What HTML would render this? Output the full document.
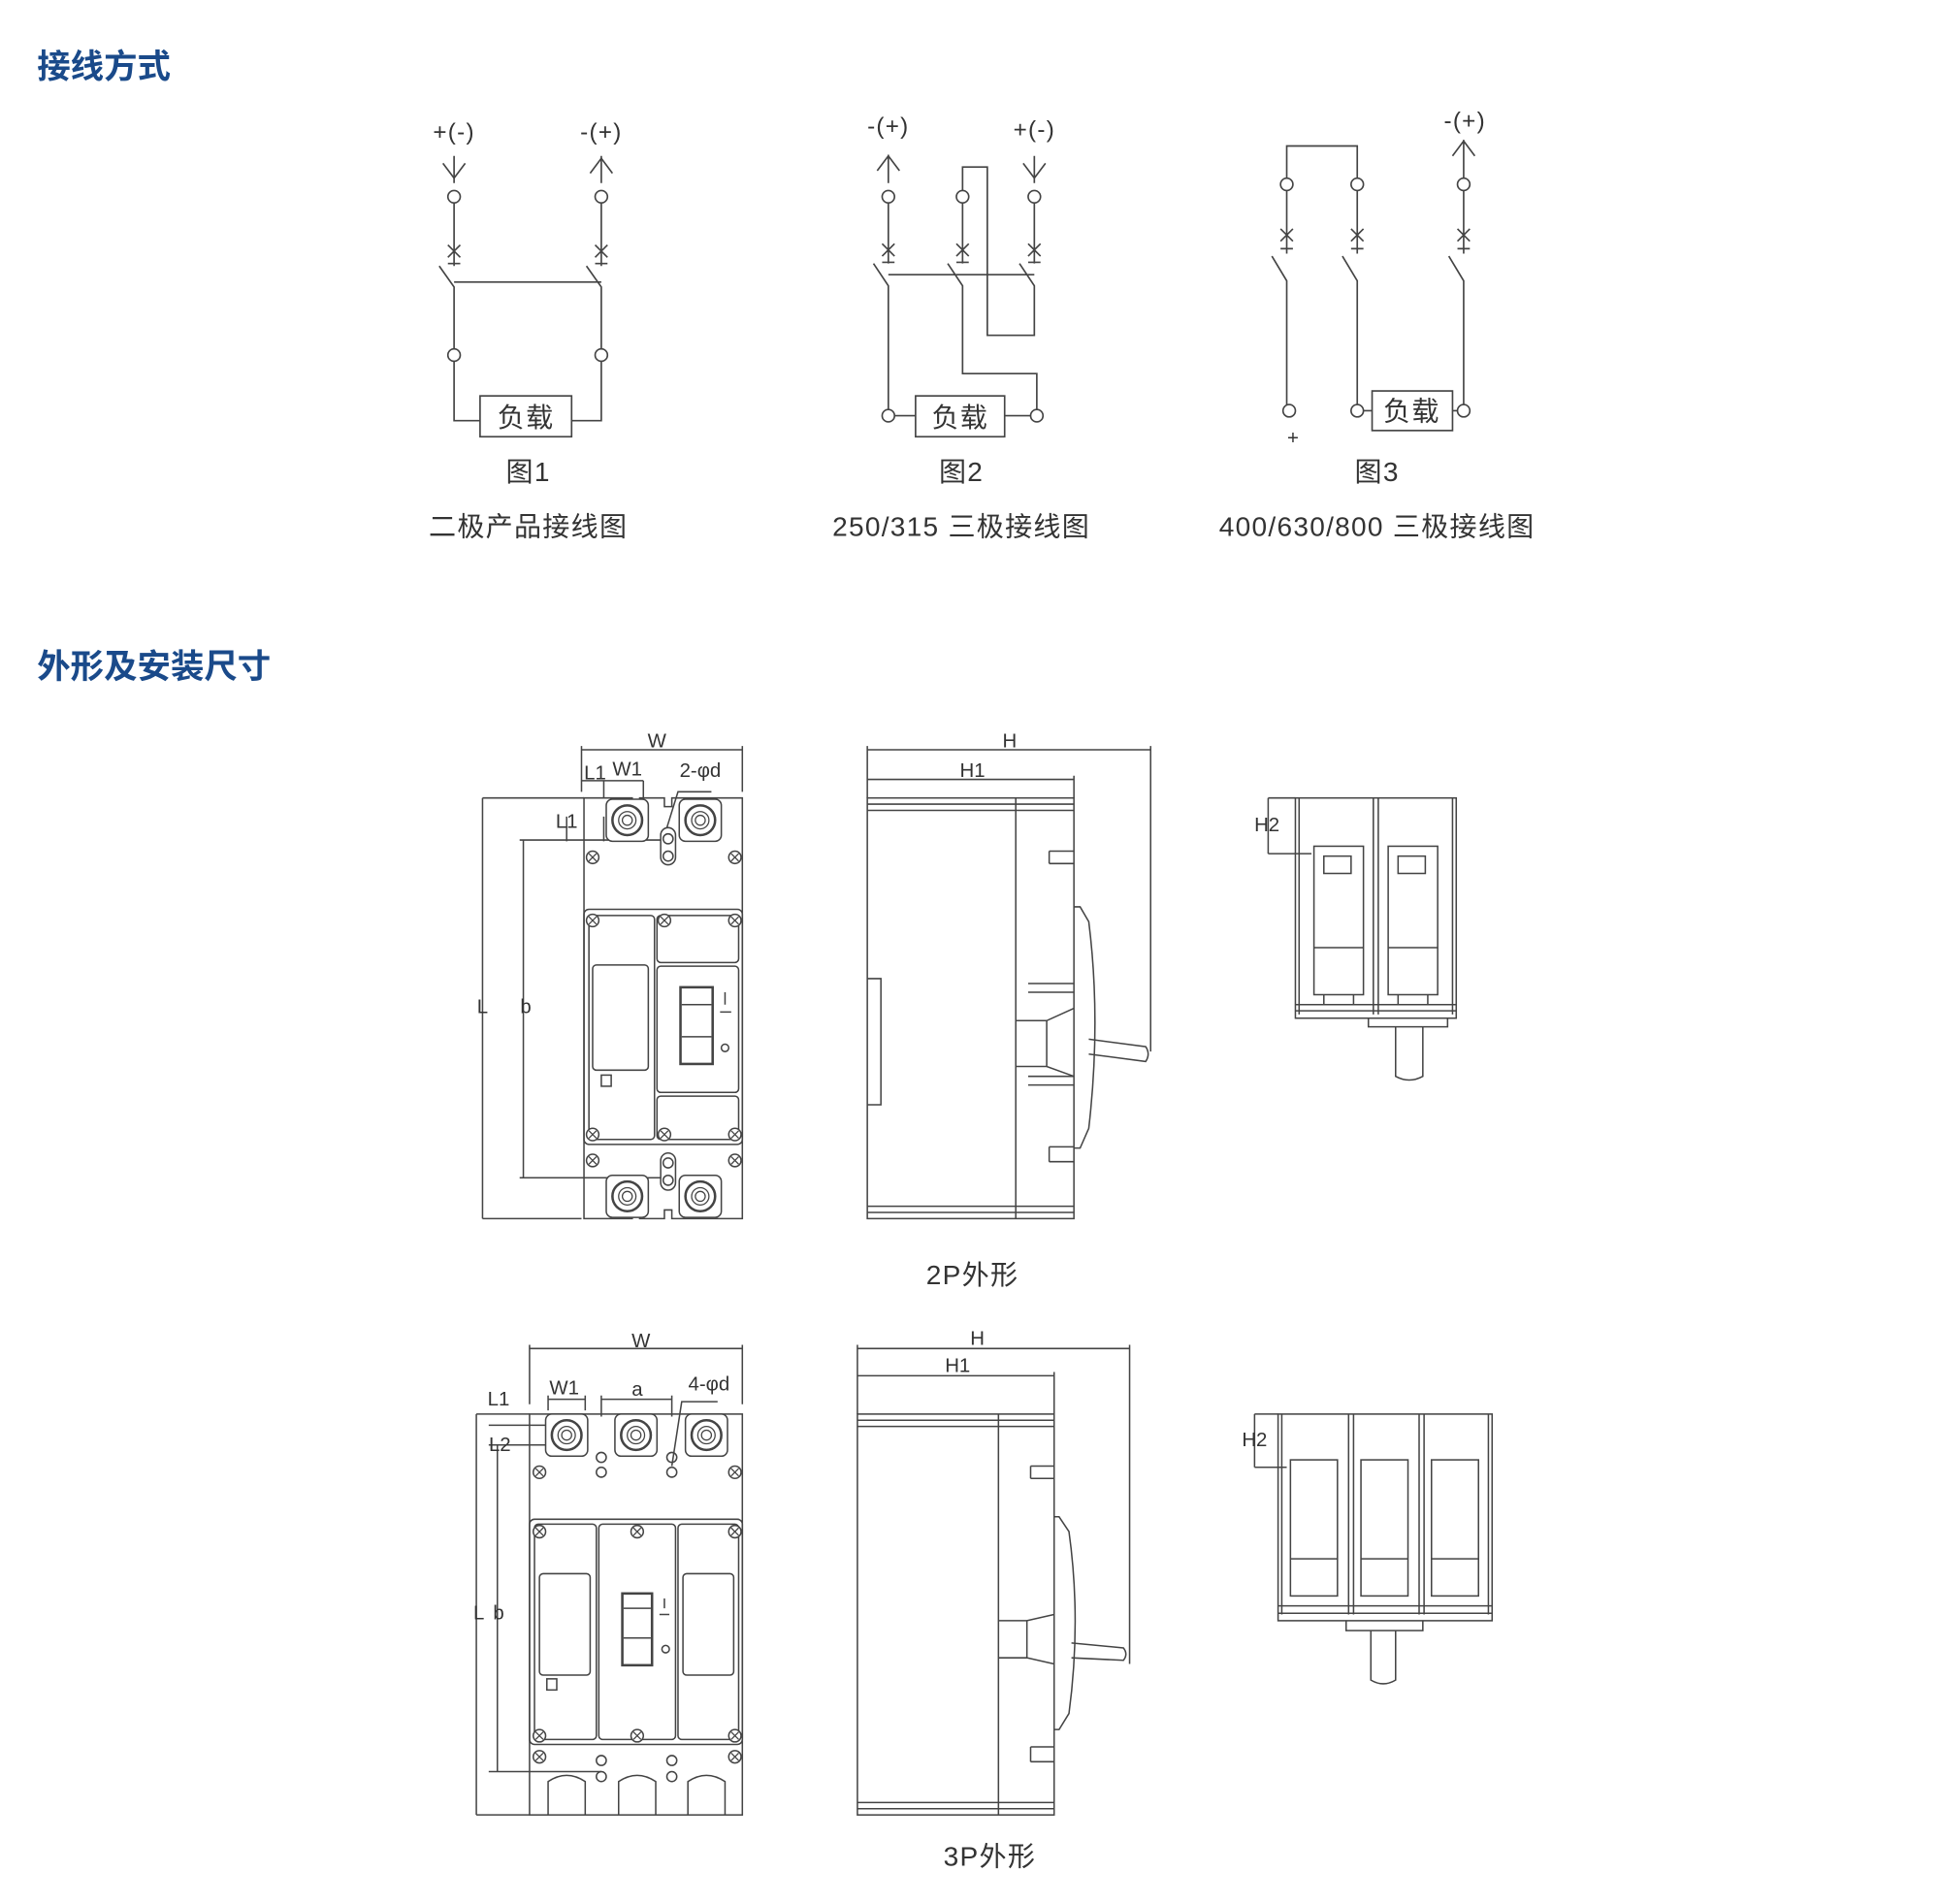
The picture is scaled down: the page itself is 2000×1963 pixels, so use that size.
<!DOCTYPE html>
<html><head><meta charset="utf-8">
<style>
html,body{margin:0;padding:0;background:#fff}
svg{display:block}
text{font-family:"Liberation Sans","Noto Sans CJK SC",sans-serif;fill:#333}
.h{fill:#1a4a8a;font-weight:bold;font-size:27px}
.c{font-size:22px;text-anchor:middle;letter-spacing:1px}
.s{font-size:16px;text-anchor:middle}
</style></head><body>
<svg width="2000" height="1963" viewBox="0 0 1568 1539" xmlns="http://www.w3.org/2000/svg">
<defs>
<g id="scr"><circle r="5" fill="#fff" stroke="#444" stroke-width="1.2"/><path d="M-3,-3L3,3M-3,3L3,-3" stroke="#444"/></g>
<g id="term"><rect x="-17" y="-17" width="34" height="34" rx="5" fill="#fff" stroke="#444" stroke-width="1.2"/><circle r="12" fill="none" stroke="#444" stroke-width="2"/><circle r="7" fill="none" stroke="#444"/><circle r="4" fill="none" stroke="#444"/></g>
</defs>
<text class="h" x="30" y="63">接线方式</text>
<text class="h" x="30" y="548">外形及安装尺寸</text>

<g stroke="#444" stroke-width="1.3" fill="none">
<path d="M367,148V126M486,126V148" />
<path d="M358,132l9,12l9,-12M477,140l9,-12l9,12"/>
<circle cx="367" cy="159" r="5"/><circle cx="486" cy="159" r="5"/>
<path d="M367,164V215M486,164V215M362,198l10,10M362,208l10,-10M481,198l10,10M481,208l10,-10M362,213h10M481,213h10"/>
<path d="M355,215l12,17V282M474,215l12,17V282M367,228H486"/>
<circle cx="367" cy="287" r="5"/><circle cx="486" cy="287" r="5"/>
<path d="M367,292V340H388M486,292V340H462"/>
<rect x="388" y="320" width="74" height="33"/>
<path d="M718,148V125M709,138l9,-12l9,12M836,126V148M827,132l9,12l9,-12"/>
<circle cx="718" cy="159" r="5"/><circle cx="778" cy="159" r="5"/><circle cx="836" cy="159" r="5"/>
<path d="M718,164V213M778,164V213M836,164V213M713,197l10,10M713,207l10,-10M773,197l10,10M773,207l10,-10M831,197l10,10M831,207l10,-10M713,212h10M773,212h10M831,212h10"/>
<path d="M706,213l12,18V331M766,213l12,18V302H838V331M824,213l12,18V271H798V135H778V154M718,222H836"/>
<circle cx="718" cy="336" r="5"/><circle cx="838" cy="336" r="5"/>
<path d="M723,336H740M812,336H833"/>
<rect x="740" y="320" width="72" height="33"/>
<path d="M1040,144V118H1097V144"/>
<path d="M1183,144V113M1174,126l9,-12l9,12"/>
<circle cx="1040" cy="149" r="5"/><circle cx="1097" cy="149" r="5"/><circle cx="1183" cy="149" r="5"/>
<path d="M1040,154V205M1097,154V205M1183,154V205M1035,185l10,10M1035,195l10,-10M1092,185l10,10M1092,195l10,-10M1178,185l10,10M1178,195l10,-10M1035,201h10M1092,201h10M1178,201h10"/>
<path d="M1028,207l12,20V327M1085,207l12,20V327M1171,207l12,20V327"/>
<circle cx="1042" cy="332" r="5"/><circle cx="1097" cy="332" r="5"/><circle cx="1183" cy="332" r="5"/>
<path d="M1102,332H1109M1174,332H1178"/>
<rect x="1109" y="316" width="65" height="32"/>
</g>
<text x="367" y="113" class="c" style="font-size:19px">+(-)</text><text x="486" y="113" class="c" style="font-size:19px">-(+)</text>
<text x="718" y="108" class="c" style="font-size:19px">-(+)</text><text x="836" y="111" class="c" style="font-size:19px">+(-)</text>
<text x="1184" y="104" class="c" style="font-size:19px">-(+)</text>
<text x="425" y="345" class="c">负载</text><text x="776" y="345" class="c">负载</text><text x="1141" y="340" class="c">负载</text>
<text x="1045" y="359" class="s" style="font-size:16px">+</text>
<text x="427" y="389" class="c">图1</text><text x="777" y="389" class="c">图2</text><text x="1113" y="389" class="c">图3</text>
<text x="427" y="433" class="c">二极产品接线图</text><text x="777" y="433" class="c">250/315 三极接线图</text><text x="1113" y="433" class="c">400/630/800 三极接线图</text>

<g stroke="#444" stroke-width="1.2" fill="none">
<path d="M472,645H511V652H517V645H537V652H543V645H600V985H543V978H537V985H517V978H511V985H472Z" fill="#fff"/>
<rect x="472" y="735" width="128" height="190" rx="4"/>
<rect x="476" y="740" width="53" height="181" rx="3"/>
<rect x="531" y="740" width="66" height="38" rx="3"/>
<rect x="531" y="781" width="66" height="102" rx="3"/>
<rect x="531" y="886" width="66" height="35" rx="3"/>
<rect x="479" y="780" width="45" height="85" rx="3"/>
<rect x="486" y="869" width="8" height="9"/>
<rect x="550" y="798" width="26" height="62" stroke-width="2"/>
<path d="M551,812h24M551,838h24M586,802v10M582,818h9"/>
<circle cx="586" cy="847" r="3"/>
<rect x="534" y="669" width="12" height="30" rx="6"/><circle cx="540" cy="678" r="4"/><circle cx="540" cy="692" r="4"/>
<rect x="534" y="932" width="12" height="30" rx="6"/><circle cx="540" cy="940" r="4"/><circle cx="540" cy="954" r="4"/>
<path d="M470,606H600M470,603V640M600,603V640M470,631H520M488,631V645M520,631V645M390,645H472M420,679H534M420,952H534M390,985H470M390,645V985M423,679V952M458,660V680M488,680V660M539,669L548,640H575M701,606H930M930,603V850M701,603V645M701,630H868M868,627V645M1047,645H1025M1025,690H1060M1025,645V690"/>
</g>
<use href="#term" x="507" y="663"/><use href="#term" x="566" y="663"/>
<use href="#term" x="507" y="967"/><use href="#term" x="566" y="967"/>
<use href="#scr" x="479" y="693"/><use href="#scr" x="594" y="693"/><use href="#scr" x="479" y="744"/><use href="#scr" x="537" y="744"/><use href="#scr" x="594" y="744"/><use href="#scr" x="479" y="917"/><use href="#scr" x="537" y="917"/><use href="#scr" x="594" y="917"/><use href="#scr" x="479" y="938"/><use href="#scr" x="594" y="938"/>
<text x="531" y="604" class="s">W</text><text x="481" y="630" class="s">L1</text><text x="507" y="627" class="s">W1</text><text x="566" y="628" class="s">2-φd</text><text x="458" y="669" class="s">L1</text>
<text x="390" y="819" class="s">L</text><text x="425" y="819" class="s">b</text>
<text x="816" y="604" class="s">H</text><text x="786" y="628" class="s">H1</text><text x="1024" y="672" class="s">H2</text>

<g stroke="#444" stroke-width="1.2" fill="none">
<rect x="701" y="645" width="167" height="340"/>
<path d="M701,650H868M701,655H868M701,975H868M701,980H868M821,645V985M701,791H712V893H701"/>
<path d="M848,688H868M848,698H868M848,688V698M848,927H868M848,939H868M848,927V939M831,795H868M831,802H868M831,870H868M831,877H868"/>
<path d="M821,825H846L868,815M821,862H846L868,870M846,825V862"/>
<path d="M868,733H873L880,745Q890,825 880,912L873,928H868"/>
<path d="M880,840L926,846Q930,852 926,858L880,852"/>
</g>
<g stroke="#444" stroke-width="1.2" fill="none">
<rect x="1047" y="645" width="130" height="178"/>
<path d="M1050,645V820M1174,645V820M1110,645V820M1114,645V820M1047,812H1177M1047,817H1177"/>
<rect x="1062" y="684" width="40" height="120"/><rect x="1122" y="684" width="40" height="120"/>
<rect x="1070" y="692" width="22" height="14"/><rect x="1130" y="692" width="22" height="14"/>
<path d="M1062,766H1102M1122,766H1162M1070,804V812M1094,804V812M1130,804V812M1154,804V812"/>
<path d="M1106,823V830H1170V823M1128,830V870Q1139,876 1150,870V830"/>
</g>
<text x="786" y="1038" class="c">2P外形</text>

<g stroke="#444" stroke-width="1.2" fill="none">
<rect x="428" y="1143" width="172" height="324" fill="#fff"/>
<rect x="428" y="1228" width="172" height="182" rx="4"/>
<rect x="432" y="1232" width="50" height="174" rx="3"/><rect x="484" y="1232" width="62" height="174" rx="3"/><rect x="548" y="1232" width="49" height="174" rx="3"/>
<rect x="436" y="1272" width="41" height="82" rx="3"/><rect x="552" y="1272" width="41" height="82" rx="3"/>
<rect x="442" y="1357" width="8" height="9"/>
<rect x="503" y="1288" width="24" height="58" stroke-width="2"/>
<path d="M504,1300h22M504,1324h22M537,1292v8M533,1305h8"/><circle cx="538" cy="1333" r="3"/>
<circle cx="486" cy="1178" r="4"/><circle cx="486" cy="1190" r="4"/><circle cx="543" cy="1178" r="4"/><circle cx="543" cy="1190" r="4"/>
<circle cx="486" cy="1423" r="4"/><circle cx="486" cy="1436" r="4"/><circle cx="543" cy="1423" r="4"/><circle cx="543" cy="1436" r="4"/>
<path d="M443,1467V1440Q458,1430 473,1440V1467M500,1467V1440Q515,1430 530,1440V1467M556,1467V1440Q571,1430 586,1440V1467"/>
<path d="M428,1090H600M428,1087V1135M600,1087V1135M443,1131H473M486,1131H543M443,1128V1140M473,1128V1140M486,1128V1145M543,1128V1145M385,1143H428M385,1467H428M385,1143V1467M395,1152H445M395,1168H470M402,1168V1432M395,1432H486M543,1185L551,1133H580"/>
<path d="M693,1090H913M913,1087V1345M693,1087V1143M693,1112H852M852,1109V1143M1033,1143H1014M1014,1186H1040M1014,1143V1186"/>
</g>
<use href="#term" x="458" y="1160"/><use href="#term" x="514" y="1160"/><use href="#term" x="571" y="1160"/>
<use href="#scr" x="436" y="1190"/><use href="#scr" x="594" y="1190"/><use href="#scr" x="436" y="1238"/><use href="#scr" x="515" y="1238"/><use href="#scr" x="594" y="1238"/><use href="#scr" x="436" y="1403"/><use href="#scr" x="515" y="1403"/><use href="#scr" x="594" y="1403"/><use href="#scr" x="436" y="1420"/><use href="#scr" x="594" y="1420"/>
<text x="518" y="1089" class="s">W</text><text x="456" y="1127" class="s">W1</text><text x="515" y="1128" class="s">a</text><text x="573" y="1124" class="s">4-φd</text>
<text x="403" y="1136" class="s">L1</text><text x="404" y="1173" class="s">L2</text>
<text x="387" y="1309" class="s">L</text><text x="403" y="1309" class="s">b</text>
<text x="790" y="1087" class="s">H</text><text x="774" y="1109" class="s">H1</text><text x="1014" y="1169" class="s">H2</text>

<g stroke="#444" stroke-width="1.2" fill="none">
<rect x="693" y="1143" width="159" height="324"/>
<path d="M693,1148H852M693,1153H852M693,1457H852M693,1462H852M807,1143V1467"/>
<path d="M833,1185H852M833,1195H852M833,1185V1195M833,1412H852M833,1424H852M833,1412V1424"/>
<path d="M807,1310H830L852,1305M807,1340H830L852,1345M830,1310V1340"/>
<path d="M852,1226H856L864,1238Q874,1310 864,1385L856,1398H852"/>
<path d="M866,1328L908,1332Q912,1337 908,1342L866,1340"/>
</g>
<g stroke="#444" stroke-width="1.2" fill="none">
<rect x="1033" y="1143" width="173" height="167"/>
<path d="M1036,1143V1305M1203,1143V1305M1090,1143V1305M1094,1143V1305M1147,1143V1305M1151,1143V1305M1033,1298H1206M1033,1304H1206"/>
<rect x="1043" y="1180" width="38" height="110"/><rect x="1100" y="1180" width="38" height="110"/><rect x="1157" y="1180" width="38" height="110"/>
<path d="M1043,1260H1081M1100,1260H1138M1157,1260H1195"/>
<path d="M1088,1310V1318H1150V1310M1108,1318V1358Q1118,1364 1128,1358V1318"/>
</g>
<text x="800" y="1508" class="c">3P外形</text>
</svg>
</body></html>
